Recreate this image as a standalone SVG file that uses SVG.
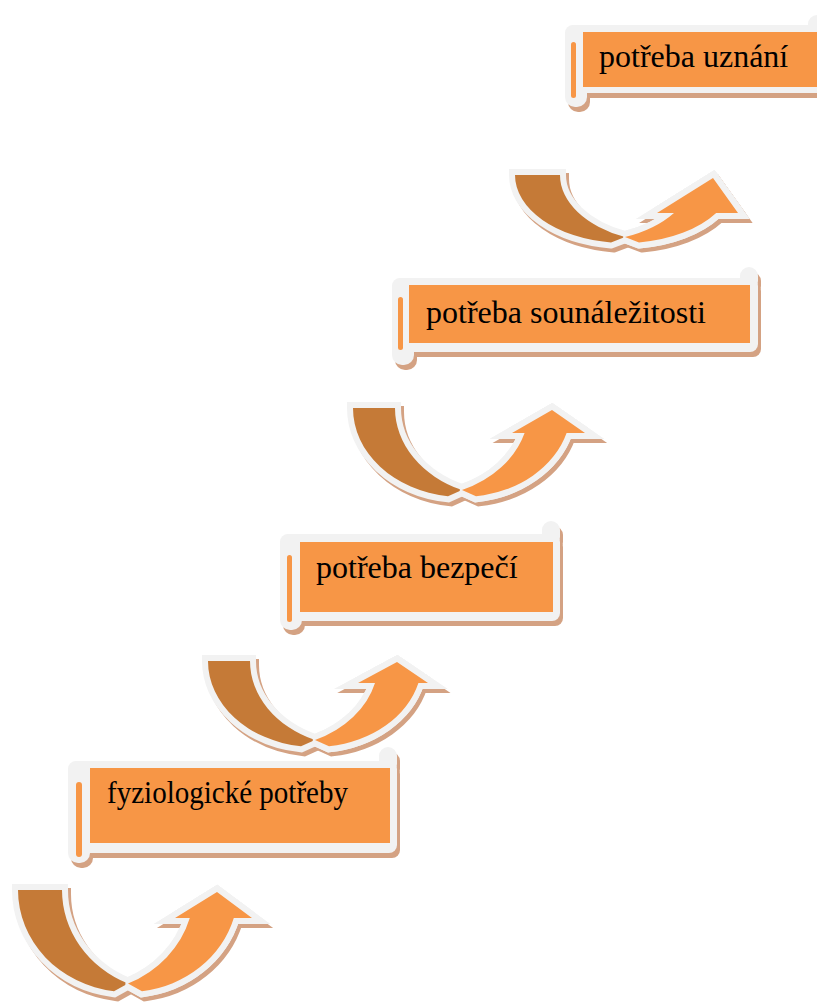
<svg xmlns="http://www.w3.org/2000/svg" width="817" height="1002" viewBox="0 0 817 1002">
<style>
.sh{fill:#D4A283;stroke:#D4A283;stroke-width:12;stroke-linejoin:miter;stroke-miterlimit:2}
.shh{fill:#D4A283;stroke:#D4A283;stroke-width:12;stroke-linejoin:miter;stroke-miterlimit:8}
.ol{fill:#F2F2F2;stroke:#F2F2F2;stroke-width:12;stroke-linejoin:miter;stroke-miterlimit:2}
.olh{fill:#F2F2F2;stroke:#F2F2F2;stroke-width:12;stroke-linejoin:miter;stroke-miterlimit:8}
.dk{fill:#C57A37}
.lt{fill:#F79646}
.bsh{fill:#D4A283}
.bfr{fill:#F2F2F2}
.bor{fill:#F79646}
.lbl{font-family:"Liberation Serif","Times New Roman",serif;font-size:32px;fill:#000}
</style>
<defs>
  <path id="d1" d="M18 890 A110 102 0 0 0 114 991.2 L128 983.5 A110 102 0 0 1 62 890 Z"/>
  <path id="l1" d="M142 991.2 A110 102 0 0 0 233.8 918 L252 918 L217 892 L175 918 L189.8 918 A110 102 0 0 1 128 983.5 Z"/>
  <path id="h1" d="M252 918 L217 892 L175 918 Z"/>
  <path id="d2" d="M208 661 A107 86 0 0 0 301 746.3 L315 740.1 A107 86 0 0 1 250 661 Z"/>
  <path id="l2" d="M329 746.3 A107 86 0 0 0 418.4 683 L428 683 L397 662 L358 683 L375 683 A107 86 0 0 1 315 740.1 Z"/>
  <path id="h2" d="M428 683 L397 662 L358 683 Z"/>
  <path id="d3" d="M353 408 A109 89 0 0 0 448 496.3 L462 490.1 A109 89 0 0 1 395 408 Z"/>
  <path id="l3" d="M476 496.3 A109 89 0 0 0 566.6 433 L585 433 L552 410 L512 433 L524.6 433 A109 89 0 0 1 462 490.1 Z"/>
  <path id="h3" d="M585 433 L552 410 L512 433 Z"/>
  <path id="d4" d="M515 175 A110 68 0 0 0 611 242.4 L625 237.1 A110 68 0 0 1 560 175 Z"/>
  <path id="l4" d="M639 242.4 A110 68 0 0 0 716.2 213 L738 213 L713 178 L657 213 L674 213 A110 68 0 0 1 625 237.1 Z"/>
  <path id="h4" d="M738 213 L713 178 L657 213 Z"/>
</defs>
<rect width="817" height="1002" fill="#FFFFFF"/>
<g id="connectors">
  <g id="arrow-1">
    <g transform="translate(3,4)"><use href="#d1" class="sh"/><use href="#l1" class="sh"/><use href="#h1" class="shh"/></g>
    <use href="#d1" class="ol"/><use href="#l1" class="ol"/><use href="#h1" class="olh"/>
    <use href="#d1" class="dk"/>
    <use href="#l1" class="ol"/><use href="#h1" class="olh"/><use href="#l1" class="lt"/>
  </g>
  <g id="arrow-2">
    <g transform="translate(3,4)"><use href="#d2" class="sh"/><use href="#l2" class="sh"/><use href="#h2" class="shh"/></g>
    <use href="#d2" class="ol"/><use href="#l2" class="ol"/><use href="#h2" class="olh"/>
    <use href="#d2" class="dk"/>
    <use href="#l2" class="ol"/><use href="#h2" class="olh"/><use href="#l2" class="lt"/>
  </g>
  <g id="arrow-3">
    <g transform="translate(3,4)"><use href="#d3" class="sh"/><use href="#l3" class="sh"/><use href="#h3" class="shh"/></g>
    <use href="#d3" class="ol"/><use href="#l3" class="ol"/><use href="#h3" class="olh"/>
    <use href="#d3" class="dk"/>
    <use href="#l3" class="ol"/><use href="#h3" class="olh"/><use href="#l3" class="lt"/>
  </g>
  <g id="arrow-4">
    <g transform="translate(3,4)"><use href="#d4" class="sh"/><use href="#l4" class="sh"/><use href="#h4" class="shh"/></g>
    <use href="#d4" class="ol"/><use href="#l4" class="ol"/><use href="#h4" class="olh"/>
    <use href="#d4" class="dk"/>
    <use href="#l4" class="ol"/><use href="#h4" class="olh"/><use href="#l4" class="lt"/>
  </g>
</g>
<g id="node-fyziologicke">
  <g class="bsh" transform="translate(3,5)">
    <rect x="68" y="761" width="329" height="92" rx="8"/>
    <rect x="68" y="761" width="22" height="102" rx="10"/>
    <rect x="379" y="747" width="18" height="26" rx="9"/>
  </g>
  <g class="bfr">
    <rect x="68" y="761" width="329" height="92" rx="8"/>
    <rect x="68" y="761" width="22" height="102" rx="10"/>
    <rect x="379" y="747" width="18" height="26" rx="9"/>
  </g>
  <rect class="bor" x="90" y="768" width="300" height="75"/>
  <rect class="bor" x="76" y="782" width="6" height="75" rx="3"/>
  <text class="lbl" x="107" y="803" textLength="241" lengthAdjust="spacingAndGlyphs">fyziologické potřeby</text>
</g>
<g id="node-bezpeci">
  <g class="bsh" transform="translate(3,5)">
    <rect x="280" y="534" width="280" height="87" rx="8"/>
    <rect x="280" y="534" width="22" height="96" rx="10"/>
    <rect x="542" y="521" width="18" height="25" rx="9"/>
  </g>
  <g class="bfr">
    <rect x="280" y="534" width="280" height="87" rx="8"/>
    <rect x="280" y="534" width="22" height="96" rx="10"/>
    <rect x="542" y="521" width="18" height="25" rx="9"/>
  </g>
  <rect class="bor" x="300" y="542" width="253" height="70"/>
  <rect class="bor" x="287" y="555" width="5" height="67" rx="2.5"/>
  <text class="lbl" x="316" y="578">potřeba bezpečí</text>
</g>
<g id="node-sounalezitosti">
  <g class="bsh" transform="translate(3,5)">
    <rect x="392" y="278" width="366" height="74" rx="8"/>
    <rect x="392" y="278" width="22" height="87" rx="10"/>
    <rect x="740" y="267" width="18" height="23" rx="9"/>
  </g>
  <g class="bfr">
    <rect x="392" y="278" width="366" height="74" rx="8"/>
    <rect x="392" y="278" width="22" height="87" rx="10"/>
    <rect x="740" y="267" width="18" height="23" rx="9"/>
  </g>
  <rect class="bor" x="409" y="285" width="341" height="58"/>
  <rect class="bor" x="398" y="297" width="5" height="53" rx="2.5"/>
  <text class="lbl" x="426" y="323">potřeba sounáležitosti</text>
</g>
<g id="node-uznani">
  <g class="bsh" transform="translate(3,5)">
    <rect x="565" y="25" width="261" height="68" rx="8"/>
    <rect x="565" y="25" width="22" height="82" rx="10"/>
    <rect x="808" y="15" width="18" height="22" rx="9"/>
  </g>
  <g class="bfr">
    <rect x="565" y="25" width="261" height="68" rx="8"/>
    <rect x="565" y="25" width="22" height="82" rx="10"/>
    <rect x="808" y="15" width="18" height="22" rx="9"/>
  </g>
  <rect class="bor" x="583" y="32" width="236" height="55"/>
  <rect class="bor" x="571" y="42" width="5" height="56" rx="2.5"/>
  <text class="lbl" x="599" y="67">potřeba uznání</text>
</g>
</svg>
